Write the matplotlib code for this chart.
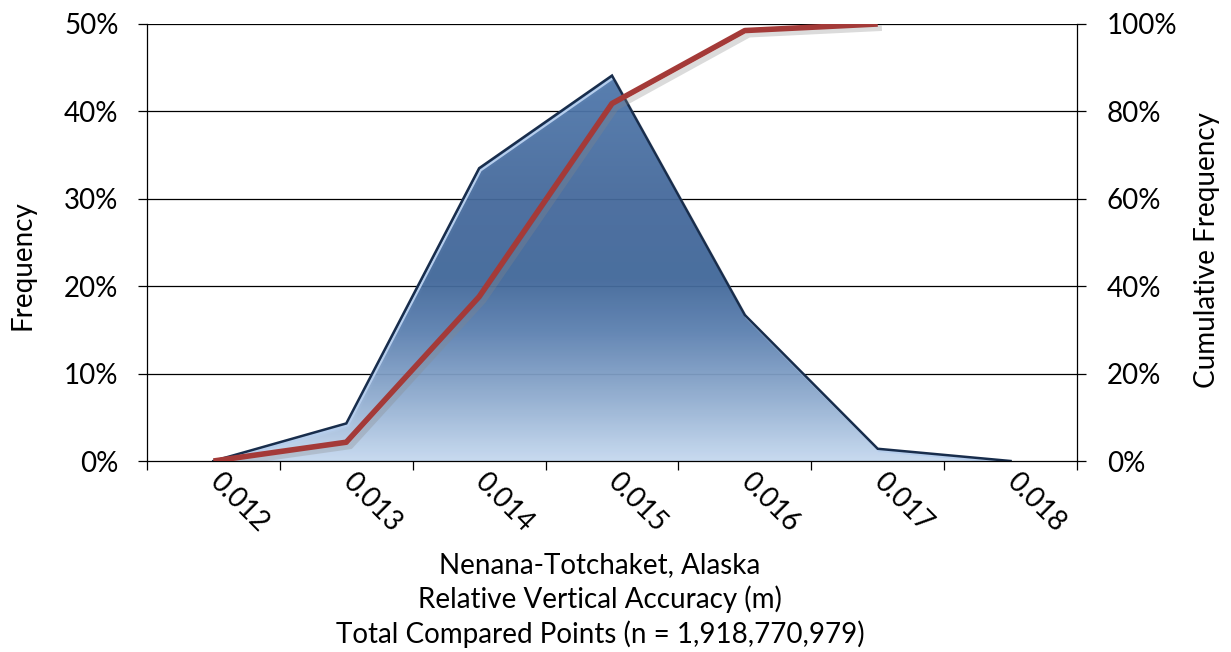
import numpy as np
import matplotlib.pyplot as plt
import matplotlib.patheffects as pe
from matplotlib.colors import LinearSegmentedColormap
from matplotlib.patches import Polygon
from matplotlib.ticker import FixedLocator, PercentFormatter
from matplotlib.transforms import offset_copy

plt.rcParams["font.family"] = ["Lato", "DejaVu Sans"]

# histogram bins and the two series (percent)
bins = ["0.012", "0.013", "0.014", "0.015", "0.016", "0.017", "0.018"]
frequency = [0.0, 4.3, 33.5, 44.1, 16.7, 1.4, 0.0]
cumulative = [0.0, 4.3, 37.6, 81.8, 98.5, 100.0]

title_lines = [
    "Nenana-Totchaket, Alaska",
    "Relative Vertical Accuracy (m)",
    "Total Compared Points (n = 1,918,770,979)",
]

FS = 20
W, H = 1231, 652
fig = plt.figure(figsize=(W / 100, H / 100), dpi=100)
ax = fig.add_axes([147 / W, 1 - 461 / H, 930 / W, 437 / H])

n = len(bins)
xc = np.arange(n) + 0.5
ax.set_xlim(0, n)
ax.set_ylim(0, 50)

# gridlines
for v in range(10, 51, 10):
    ax.axhline(v, color="black", lw=0.9, zorder=1)

# area with vertical gradient clipped to its outline
verts = [(xc[0], 0)] + list(zip(xc, frequency)) + [(xc[-1], 0)]
shadow = Polygon(verts, closed=True, facecolor="none", edgecolor="none", zorder=2)
shadow.set_path_effects([pe.SimplePatchShadow(offset=(3, -3), shadow_rgbFace="#999999", alpha=0.3)])
ax.add_patch(shadow)
clip = Polygon(verts, closed=True, facecolor="none", edgecolor="none", zorder=3)
ax.add_patch(clip)

cmap = LinearSegmentedColormap.from_list(
    "area",
    [(0.0, "#c6daf1"), (0.15, "#8eabcf"), (0.3, "#5a7fb0"), (0.42, "#3f6699"),
     (0.6, "#44699c"), (0.88, "#4f78ac"), (1.0, "#5580b4")],
)
grad = np.linspace(0, 1, 256).reshape(-1, 1)
img = ax.imshow(grad, cmap=cmap, origin="lower", extent=[0, n, 0, 50],
                aspect="auto", alpha=0.93, zorder=3, interpolation="bilinear")
img.set_clip_path(clip)

# light inner edge and dark outline along the top of the area
hl, = ax.plot(xc, frequency, color="#b5cdec", lw=1.6, zorder=4,
              transform=offset_copy(ax.transData, fig=fig, x=1.5, y=-2.2, units="dots"))
hl.set_clip_path(clip)
ax.plot(xc, frequency, color="#182d4c", lw=1.8, zorder=5, solid_joinstyle="miter")

# axes styling
ax.spines["top"].set_visible(False)
ax.spines["right"].set_visible(False)
for s in ["left", "bottom"]:
    ax.spines[s].set_color("black")
    ax.spines[s].set_linewidth(0.9)
    ax.spines[s].set_zorder(6)

ax.yaxis.set_major_locator(FixedLocator(range(0, 51, 10)))
ax.yaxis.set_major_formatter(PercentFormatter(decimals=0))
ax.tick_params(axis="y", length=6.5, width=0.9, pad=14, labelsize=FS, colors="black")

ax.xaxis.set_major_locator(FixedLocator(np.arange(n + 1)))
ax.xaxis.set_major_formatter(plt.NullFormatter())
ax.xaxis.set_minor_locator(FixedLocator(xc))
ax.set_xticklabels(bins, minor=True)
ax.tick_params(axis="x", which="major", length=6.5, width=0.9)
ax.tick_params(axis="x", which="minor", length=0, pad=12, labelsize=FS)
for lab in ax.get_xticklabels(minor=True):
    lab.set_rotation(-45)
    lab.set_ha("left")
    lab.set_va("center")
    lab.set_rotation_mode("anchor")

# cumulative line on the secondary axis
ax2 = ax.twinx()
ax2.set_ylim(0, 100)
ax2.set_xlim(0, n)
ax2.plot(xc[:len(cumulative)], cumulative, color="#a43a38", lw=4.0,
         solid_joinstyle="round", solid_capstyle="butt", zorder=5,
         path_effects=[pe.SimpleLineShadow(offset=(3, -3), shadow_color="#888888", alpha=0.3),
                       pe.Normal()])
for s in ["top", "left", "bottom"]:
    ax2.spines[s].set_visible(False)
ax2.spines["right"].set_color("black")
ax2.spines["right"].set_linewidth(0.9)
ax2.yaxis.set_major_locator(FixedLocator(range(0, 101, 20)))
ax2.yaxis.set_major_formatter(PercentFormatter(decimals=0))
ax2.tick_params(axis="y", length=6.5, width=0.9, pad=15, labelsize=FS, colors="black")

fig.text(22 / W, 1 - 265 / H, "Frequency", rotation=90, ha="center", va="center", fontsize=FS)
fig.text(1207 / W, 1 - 250 / H, "Cumulative Frequency", rotation=90, ha="center", va="center",
         fontsize=FS)
for i, line in enumerate(title_lines):
    fig.text(600 / W, 1 - (565 + 34.5 * i) / H, line, ha="center", va="center", fontsize=FS)

fig.savefig("out.png", dpi=100)
